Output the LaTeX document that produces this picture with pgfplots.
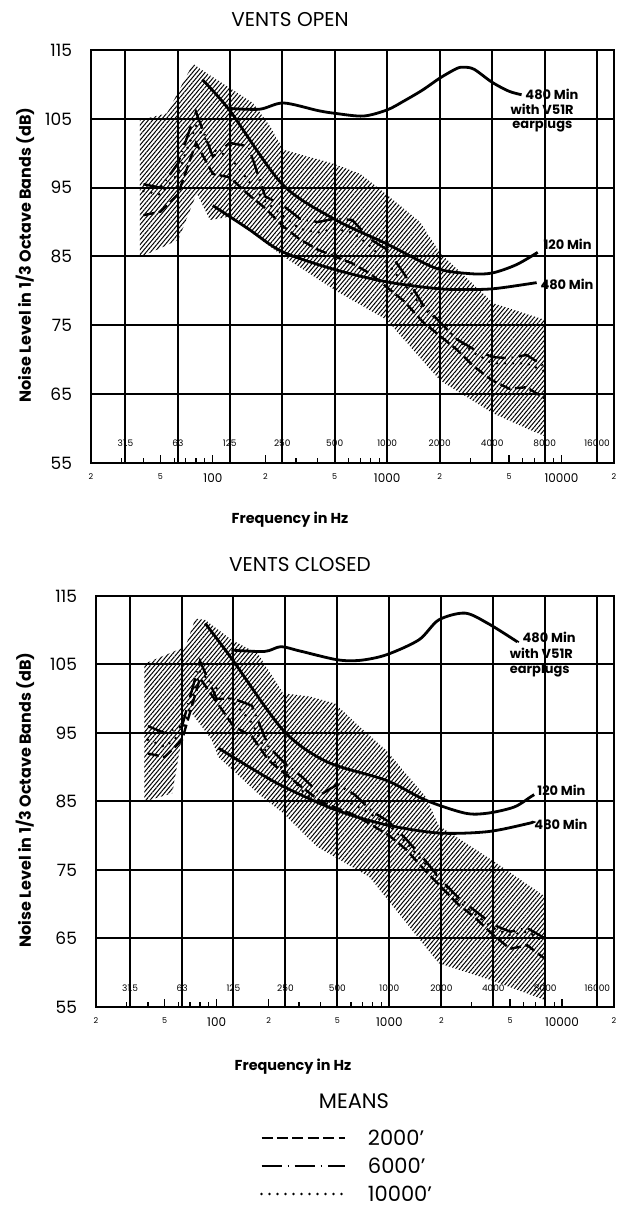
\documentclass[border=0pt]{standalone}
\usepackage{fontspec}
\setmainfont{Poppins}
\usepackage{pgfplots}
\pgfplotsset{compat=1.18}
\usetikzlibrary{patterns.meta}
\newcommand\sm{\fontsize{4}{4}\selectfont}
\newcommand\ob{\fontsize{4.5}{4.5}\selectfont}
\tikzset{
 band/.style={draw=none, pattern={Lines[angle=50,distance=1.6pt,line width=0.5pt]}},
 refc/.style={black, line width=1.4pt, smooth},
 mA/.style={black, line width=1.2pt, dash pattern=on 5.5pt off 2.2pt},
 mB/.style={black, line width=1.2pt, dash pattern=on 10pt off 3pt on 0.6pt off 3pt},
 mC/.style={black, line width=1.4pt, line cap=round, dash pattern=on 0pt off 4pt},
}
\begin{document}
\begin{tikzpicture}
\useasboundingbox (0,0) rectangle (309pt,609pt);
% ---------------- top panel
\node[font=\fontsize{10}{10}\selectfont] at (145pt,599pt) {VENTS OPEN};
\node[rotate=90, font=\bfseries\fontsize{8}{8}\selectfont] at (12.5pt,481.5pt) {Noise Level in 1/3 Octave Bands (dB)};
\node[font=\bfseries\fontsize{7.2}{7.2}\selectfont] at (145pt,349pt) {Frequency in Hz};
\begin{axis}[width=261.5pt, height=206.5pt, at={(45.5pt,377.5pt)}, anchor=south west,
  scale only axis, xmode=log, xmin=20, xmax=20000, ymin=55, ymax=115,
  axis line style={black, line width=1pt},
  xtick={20,50,100,200,500,1000,2000,5000,10000,20000},
  xticklabels={{\sm 2},{\sm 5},100,{\sm 2},{\sm 5},1000,{\sm 2},{\sm 5},10000,{\sm 2}},
  minor xtick={30,40,60,70,80,90,300,400,600,700,800,900,3000,4000,6000,7000,8000,9000},
  xtick pos=left, xtick align=inside,
  major tick length=4pt, minor tick length=2.5pt,
  tick style={black, line width=0.6pt},
  xticklabel style={font=\fontsize{6}{6}\selectfont, yshift=-2pt},
  ytick={55,65,...,115},
  yticklabels={55,65,75,85,95,105,115},
  ytick style={draw=none},
  yticklabel style={font=\fontsize{8.5}{8.5}\selectfont, xshift=-6pt},
  ymajorgrids,
  major grid style={black, line width=1pt},
  extra x ticks={31.5,63,125,250,500,1000,2000,4000,8000,16000},
  extra x tick labels={},
  extra x tick style={grid=major, major tick length=0pt}]
\addplot[band] coordinates {(38.2,104.8) (54.6,105.8) (76.9,113.0) (90.2,111.8) (169.9,107.3) (213,103.9) (254,100.5) (489,98.5) (700,97) (993,94) (1545,90) (2010,85.5) (4065,78.2) (8000,75.8) (8000,58.9) (6600,59.8) (4065,62.2) (2010,67.0) (993,75.8) (502,80.1) (254,85.0) (125.4,90.8) (96.4,90.3) (80.8,94.2) (63.3,87.4) (39.1,85.0) (38.2,85.0)};
\addplot[refc] coordinates {(87,110.7) (125,106.2) (250,95.5) (500,90.4) (1000,86.8) (1900,83.3) (3000,82.5) (4000,82.6) (5500,83.8) (7300,85.6)};
\addplot[refc] coordinates {(100,92.4) (160,89) (250,85.7) (500,83.1) (1000,81.3) (2000,80.3) (3150,80.2) (4000,80.3) (5000,80.6) (7200,81.2)};
\addplot[refc] coordinates {(125,106.5) (186,106.4) (254,107.3) (400,106.2) (500,105.8) (730,105.4) (1000,106.3) (1250,107.6) (1600,109.2) (2000,110.9) (2500,112.3) (2750,112.5) (3150,112.2) (4000,110.3) (5000,109.0) (5900,108.5)};
\addplot[mA] coordinates {(40,91) (50,91.5) (63,94) (80,101.5) (100,97) (125,96.5) (160,94) (200,92) (250,89.5) (315,87.5) (400,86) (500,85) (630,84) (800,82.5) (1000,80.5) (1250,78.5) (1600,75.5) (2000,73.5) (2500,71.5) (3150,69) (4000,67) (5000,65.8) (6300,66) (8000,64.4)};
\addplot[mB] coordinates {(40,95.5) (50,95) (63,98.5) (80,106) (100,99.5) (125,101.5) (160,101) (200,93.7) (250,92.5) (315,90.5) (400,90) (500,90.5) (630,90.3) (800,87.5) (1000,86) (1250,82.5) (1600,78) (2000,75.5) (2500,73) (3150,71.5) (4000,70.4) (5000,70.2) (6300,70.7) (8000,69)};
\addplot[mC] coordinates {(40,94.5) (50,94) (63,97) (80,104) (100,100.5) (125,99.5) (160,96) (200,93) (250,91) (315,89) (400,88.5) (500,89) (630,88.5) (800,86.5) (1000,84) (1250,81) (1600,77.5) (2000,75.5) (2500,73) (3150,71) (4000,69.5) (5000,69.5) (6300,69.5) (8000,68.3)};
\node[font=\ob] at (axis cs:31.5,57.9) {31.5};
\node[font=\ob] at (axis cs:63,57.9) {63};
\node[font=\ob] at (axis cs:125,57.9) {125};
\node[font=\ob] at (axis cs:250,57.9) {250};
\node[font=\ob] at (axis cs:500,57.9) {500};
\node[font=\ob] at (axis cs:1000,57.9) {1000};
\node[font=\ob] at (axis cs:2000,57.9) {2000};
\node[font=\ob] at (axis cs:4000,57.9) {4000};
\node[font=\ob] at (axis cs:8000,57.9) {8000};
\node[font=\ob] at (axis cs:16000,57.9) {16000};
\node[anchor=west, font=\bfseries\fontsize{6.5}{6.5}\selectfont, inner sep=0pt] at (axis cs:6180,108.5) {480 Min};
\node[anchor=west, font=\bfseries\fontsize{6.5}{6.5}\selectfont, inner sep=0pt] at (axis cs:5070,106.4) {with V51R};
\node[anchor=west, font=\bfseries\fontsize{6.5}{6.5}\selectfont, inner sep=0pt] at (axis cs:5200,104.0) {earplugs};
\node[anchor=west, font=\bfseries\fontsize{6.5}{6.5}\selectfont, inner sep=0pt] at (axis cs:7840,86.7) {120 Min};
\node[anchor=west, font=\bfseries\fontsize{6.5}{6.5}\selectfont, inner sep=0pt] at (axis cs:7535,81.0) {480 Min};
\end{axis}
% ---------------- bottom panel
\node[font=\fontsize{10}{10}\selectfont] at (150pt,326.5pt) {VENTS CLOSED};
\node[rotate=90, font=\bfseries\fontsize{8}{8}\selectfont] at (12.5pt,209pt) {Noise Level in 1/3 Octave Bands (dB)};
\node[font=\bfseries\fontsize{7.2}{7.2}\selectfont] at (146.5pt,75.5pt) {Frequency in Hz};
\node[font=\fontsize{10.5}{10.5}\selectfont] at (177pt,58.5pt) {MEANS};
\begin{axis}[width=259pt, height=205.5pt, at={(48pt,105.5pt)}, anchor=south west,
  scale only axis, xmode=log, xmin=20, xmax=20000, ymin=55, ymax=115,
  axis line style={black, line width=1pt},
  xtick={20,50,100,200,500,1000,2000,5000,10000,20000},
  xticklabels={{\sm 2},{\sm 5},100,{\sm 2},{\sm 5},1000,{\sm 2},{\sm 5},10000,{\sm 2}},
  minor xtick={30,40,60,70,80,90,300,400,600,700,800,900,3000,4000,6000,7000,8000,9000},
  xtick pos=left, xtick align=inside,
  major tick length=4pt, minor tick length=2.5pt,
  tick style={black, line width=0.6pt},
  xticklabel style={font=\fontsize{6}{6}\selectfont, yshift=-2pt},
  ytick={55,65,...,115},
  yticklabels={55,65,75,85,95,105,115},
  ytick style={draw=none},
  yticklabel style={font=\fontsize{8.5}{8.5}\selectfont, xshift=-6pt},
  ymajorgrids,
  major grid style={black, line width=1pt},
  extra x ticks={31.5,63,125,250,500,1000,2000,4000,8000,16000},
  extra x tick labels={},
  extra x tick style={grid=major, major tick length=0pt},
  legend style={at={(0.3045,-0.285)}, anchor=north west, draw=none, fill=none,
    font=\fontsize{10.5}{10.5}\selectfont, row sep=4.5pt, cells={anchor=west},
    nodes={inner sep=1pt, text height=7.5pt, text depth=0pt},
    /tikz/every odd column/.append style={column sep=10pt}},
  legend image code/.code={\draw[#1] (0pt,0pt) -- (41.5pt,0pt);}]
\addplot[band, forget plot] coordinates {(38.1,105.1) (66,107.6) (75.2,111.7) (85.9,111.5) (121.8,108.6) (173,106.6) (242.7,100.8) (349,100.3) (485,99.3) (673,95.9) (957,92.5) (1621,85.7) (1930,81.5) (3900,76.5) (8000,71.1) (8000,56.0) (3900,58.9) (1930,61.4) (766,74.0) (381,78.4) (242.7,83.3) (173,86.2) (102.3,91.5) (93.6,94.0) (67.3,98.8) (55.3,86.2) (38.1,85.0)};
\addplot[refc, forget plot] coordinates {(85.8,111.0) (121.8,105.9) (242.7,95.4) (434.6,90.8) (957,88.1) (1621,85.2) (2742,83.3) (3720,83.3) (5290,84.2) (6600,85.7) (6900,86.0)};
\addplot[refc, forget plot] coordinates {(102.3,92.8) (160,89.8) (242.7,87.2) (485,83.8) (957,81.6) (1930,80.4) (3720,80.6) (6410,81.8) (6700,82.0)};
\addplot[refc, forget plot] coordinates {(121.8,107.1) (189,106.9) (235,107.6) (300,107.0) (496,105.7) (673,105.6) (957,106.4) (1483,108.6) (1930,111.5) (2742,112.5) (3720,111.0) (5290,108.6) (5500,108.3)};
\addplot[mA] coordinates {(40,92) (50,91.5) (63,94) (80,103) (100,99.5) (125,96) (160,94.5) (200,91) (250,89) (315,87) (400,85) (500,84) (630,83) (800,81.5) (1000,80) (1250,78) (1600,75) (2000,72.5) (2500,70) (3150,68) (4000,65.5) (5000,63.5) (6300,64) (8000,62)};
\addlegendentry{2000'}
\addplot[mB] coordinates {(40,96) (50,95) (63,96) (80,105.5) (100,100) (125,100) (160,99) (200,93) (250,90.5) (315,88.5) (400,86) (500,87.5) (630,86) (800,83.5) (1000,82) (1250,79.5) (1600,76.5) (2000,73.5) (2500,71) (3150,69) (4000,67) (5000,66) (6300,66.5) (8000,65)};
\addlegendentry{6000'}
\addplot[mC] coordinates {(40,94) (50,93) (63,95) (80,104) (100,101.5) (125,99.5) (160,96.5) (200,91.5) (250,89.5) (315,86.5) (400,84.5) (500,85.5) (630,84.5) (800,83) (1000,81.5) (1250,79) (1600,76) (2000,73.5) (2500,70.5) (3150,68.5) (4000,66.5) (5000,65.5) (6300,66) (8000,64.5)};
\addlegendentry{10000'}
\node[font=\ob] at (axis cs:31.5,57.7) {31.5};
\node[font=\ob] at (axis cs:63,57.7) {63};
\node[font=\ob] at (axis cs:125,57.7) {125};
\node[font=\ob] at (axis cs:250,57.7) {250};
\node[font=\ob] at (axis cs:500,57.7) {500};
\node[font=\ob] at (axis cs:1000,57.7) {1000};
\node[font=\ob] at (axis cs:2000,57.7) {2000};
\node[font=\ob] at (axis cs:4000,57.7) {4000};
\node[font=\ob] at (axis cs:8000,57.7) {8000};
\node[font=\ob] at (axis cs:16000,57.7) {16000};
\node[anchor=west, font=\bfseries\fontsize{6.5}{6.5}\selectfont, inner sep=0pt] at (axis cs:5886,109.0) {480 Min};
\node[anchor=west, font=\bfseries\fontsize{6.5}{6.5}\selectfont, inner sep=0pt] at (axis cs:4955,106.7) {with V51R};
\node[anchor=west, font=\bfseries\fontsize{6.5}{6.5}\selectfont, inner sep=0pt] at (axis cs:4955,104.1) {earplugs};
\node[anchor=west, font=\bfseries\fontsize{6.5}{6.5}\selectfont, inner sep=0pt] at (axis cs:7165,86.7) {120 Min};
\node[anchor=west, font=\bfseries\fontsize{6.5}{6.5}\selectfont, inner sep=0pt] at (axis cs:6890,81.6) {480 Min};
\end{axis}
\end{tikzpicture}
\end{document}
